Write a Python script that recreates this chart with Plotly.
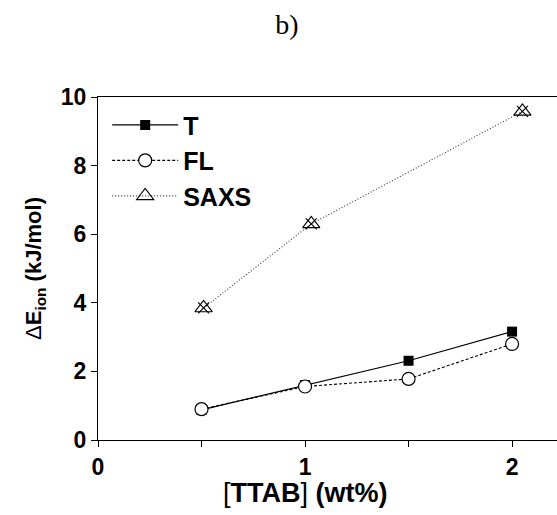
import plotly.graph_objects as go

# Data
t_x = [0.5, 1.0, 1.5, 2.0]
t_y = [0.88, 1.6, 2.31, 3.16]
fl_x = [0.5, 1.0, 1.5, 2.0]
fl_y = [0.9, 1.56, 1.78, 2.8]
saxs_x = [0.51, 1.03, 2.05]
saxs_y = [3.85, 6.3, 9.58]

x_ticks = [0, 1, 2]
y_ticks = [0, 2, 4, 6, 8, 10]

FONT = "Liberation Sans, Arial, sans-serif"
tickf = dict(family=FONT, size=23, color="black", weight="bold")
legf = dict(family=FONT, size=25, color="black", weight="bold")

W, H = 557, 515
ML, MR, MT, MB = 98, 0, 97, 75
plot_h = H - MT - MB

fig = go.Figure()
fig.add_trace(go.Scatter(
    x=t_x, y=t_y, name="T", mode="lines+markers",
    line=dict(color="black", width=1.2, dash="solid"),
    marker=dict(symbol="square", size=10, color="black"),
))
fig.add_trace(go.Scatter(
    x=fl_x, y=fl_y, name="FL", mode="lines+markers",
    line=dict(color="black", width=1.1, dash="3px,2px"),
    marker=dict(symbol="circle", size=13, color="white", line=dict(color="black", width=1.2)),
))
fig.add_trace(go.Scatter(
    x=saxs_x, y=saxs_y, name="SAXS", mode="lines+markers",
    line=dict(color="#333333", width=1.1, dash="1px,2px"),
    marker=dict(symbol="triangle-up-open", size=15, color="black", line=dict(width=1.1)),
))
fig.add_trace(go.Scatter(
    x=saxs_x, y=saxs_y, mode="markers", showlegend=False, hoverinfo="skip",
    marker=dict(symbol="x-thin-open", size=11, color="black", line=dict(width=1.1, color="black")),
))

fig.update_layout(
    width=W, height=H,
    margin=dict(l=ML, r=MR, t=MT, b=MB),
    paper_bgcolor="white", plot_bgcolor="white",
    showlegend=True,
    legend=dict(x=0.02, y=0.985, xanchor="left", yanchor="top",
                font=legf, bgcolor="rgba(0,0,0,0)", itemwidth=66,
                tracegroupgap=0),
    title=dict(text="b)", x=287 / W, xref="container", y=1 - 24 / H, yref="container",
               xanchor="center", yanchor="middle",
               font=dict(family="Liberation Serif, Times New Roman, serif", size=28, color="black")),
    annotations=[dict(
        text="<span style='font-weight:normal'>[</span>TTAB<span style='font-weight:normal'>]</span> (wt%)",
        x=1.0, xref="x", y=-(493 - (H - MB)) / plot_h, yref="paper",
        xanchor="center", yanchor="middle", showarrow=False,
        font=dict(family=FONT, size=27, color="black", weight="bold"),
    )],
)
fig.update_xaxes(
    range=[0, 2.217], tickvals=x_ticks, ticktext=[str(v) for v in x_ticks],
    ticks="outside", ticklen=6, tickwidth=1.2, tickcolor="black",
    minor=dict(tickvals=[0.5, 1.5], ticks="outside", ticklen=6, tickwidth=1.2, tickcolor="black"),
    showline=True, linecolor="black", linewidth=1.3, mirror=True,
    showgrid=False, zeroline=False, tickfont=tickf,
)
fig.update_yaxes(
    range=[0, 10], tickvals=y_ticks, ticktext=[str(v) for v in y_ticks],
    ticks="outside", ticklen=6, tickwidth=1.2, tickcolor="black",
    showline=True, linecolor="black", linewidth=1.3, mirror=False,
    showgrid=False, zeroline=False, tickfont=tickf,
    title=dict(text="<span style='font-weight:normal'>Δ</span>E<sub>ion</sub> (kJ/mol)",
               font=dict(family=FONT, size=22, color="black", weight="bold"), standoff=12),
)

fig.write_html("out.html")
